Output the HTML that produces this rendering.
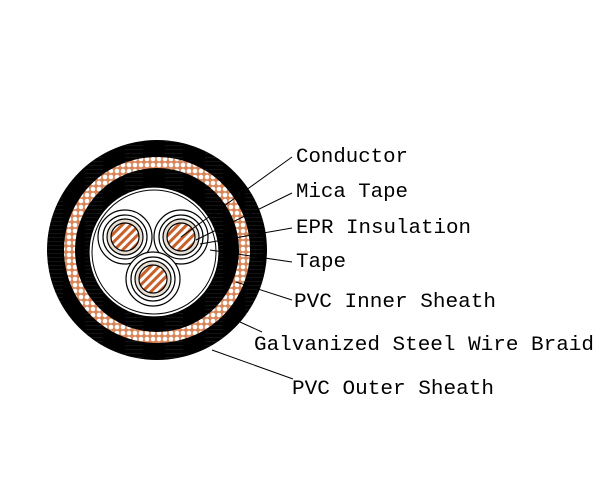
<!DOCTYPE html>
<html><head><meta charset="utf-8"><style>html,body{margin:0;padding:0;background:#fff}svg{display:block}</style></head>
<body>
<svg width="600" height="500" viewBox="0 0 600 500" xmlns="http://www.w3.org/2000/svg">
<defs>
<pattern id="braid" width="6" height="6" patternUnits="userSpaceOnUse">
<rect width="6" height="6" fill="#d9875a"/>
<circle cx="3" cy="3" r="2.3" fill="#fff"/>
</pattern>
<pattern id="hatch" width="6" height="6" patternUnits="userSpaceOnUse" patternTransform="rotate(-45)">
<rect width="6" height="6" fill="#fff"/>
<rect width="6" height="3" fill="#c8602a"/>
</pattern>
<pattern id="tex" width="40" height="4" patternUnits="userSpaceOnUse">
<rect width="40" height="4" fill="#000"/>
<rect x="5" y="1" width="18" height="0.6" fill="#222"/>
</pattern>
</defs>
<circle cx="157" cy="250" r="110" fill="url(#tex)"/>
<circle cx="157" cy="250" r="93" fill="url(#braid)"/>
<circle cx="157" cy="250" r="82" fill="url(#tex)"/>
<circle cx="154" cy="252" r="65" fill="#fff" stroke="#000" stroke-width="1.2"/>
<circle cx="154" cy="252" r="62" fill="none" stroke="#000" stroke-width="1"/>
<g stroke="#000" stroke-width="1.2">
<g transform="translate(125,237)"><circle r="27" fill="#fff"/><circle r="22" fill="#fff"/><circle r="18" fill="#e6dfd2"/><circle r="14" fill="url(#hatch)"/></g>
<g transform="translate(181,237)"><circle r="27" fill="#fff"/><circle r="22" fill="#fff"/><circle r="18" fill="#e6dfd2"/><circle r="14" fill="url(#hatch)"/></g>
<g transform="translate(153,279)"><circle r="27" fill="#fff"/><circle r="22" fill="#fff"/><circle r="18" fill="#e6dfd2"/><circle r="14" fill="url(#hatch)"/></g>
</g>
<g stroke="#000" stroke-width="1" fill="none">
<polyline points="292,157 181,237"/>
<polyline points="292,193 196,240"/>
<polyline points="292,228 200,244"/>
<polyline points="292,262 210,250"/>
<polyline points="292,300 236,282"/>
<polyline points="262,332 240,322"/>
<polyline points="293,379 212,350"/>
</g>
<g font-family="Liberation Mono, monospace" font-size="20" fill="#000">
<text x="296" y="162" textLength="112" lengthAdjust="spacingAndGlyphs">Conductor</text>
<text x="296" y="197" textLength="112" lengthAdjust="spacingAndGlyphs">Mica Tape</text>
<text x="296" y="233" textLength="175" lengthAdjust="spacingAndGlyphs">EPR Insulation</text>
<text x="296" y="267" textLength="50" lengthAdjust="spacingAndGlyphs">Tape</text>
<text x="294" y="307" textLength="202" lengthAdjust="spacingAndGlyphs">PVC Inner Sheath</text>
<text x="254" y="350" textLength="340" lengthAdjust="spacingAndGlyphs">Galvanized Steel Wire Braid</text>
<text x="292" y="394" textLength="202" lengthAdjust="spacingAndGlyphs">PVC Outer Sheath</text>
</g>
</svg>
</body></html>
